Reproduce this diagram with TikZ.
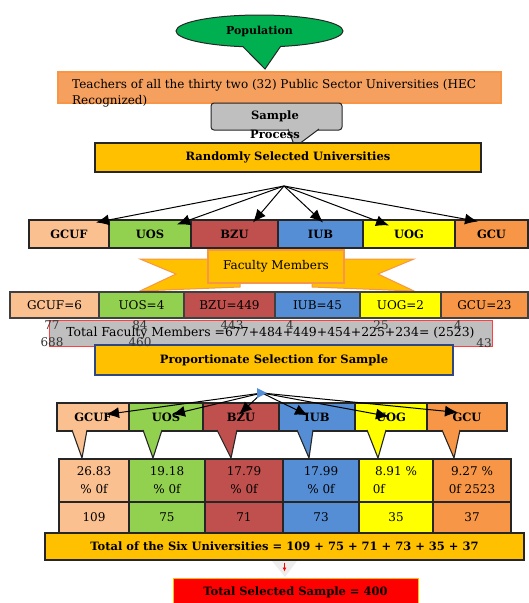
\documentclass[tikz,border=0pt]{standalone}
\usepackage{fontspec}
\setmainfont{DejaVu Serif}
\usepackage{tikz}
\usetikzlibrary{arrows.meta,shapes,shapes.callouts}
\definecolor{gcufcol}{RGB}{250,192,144}
\definecolor{uoscol}{RGB}{146,208,80}
\definecolor{bzucol}{RGB}{192,80,77}
\definecolor{iubcol}{RGB}{85,142,213}
\definecolor{uogcol}{RGB}{255,255,0}
\definecolor{gcucol}{RGB}{247,150,70}
\definecolor{goldcol}{RGB}{255,192,0}
\definecolor{popcol}{RGB}{0,176,80}
\definecolor{greycol}{RGB}{191,191,191}
\definecolor{barcol}{RGB}{245,160,95}
\definecolor{barlight}{RGB}{251,210,178}
\definecolor{propblue}{RGB}{47,72,130}
\newcommand{\cellfont}{\fontsize{12}{14}\selectfont}
\newcommand{\headfont}{\fontsize{11.5}{13}\selectfont\bfseries}
\tikzstyle{cell}=[rectangle, draw=black!85
%,fill=white
,line width=1.1pt
,inner sep=0pt
,font=\cellfont
]
\tikzstyle{head cell} = [cell, font=\headfont]
\tikzstyle{gold cell} = [head cell, fill=goldcol]
\tikzstyle{pct cell} = [cell, align=center, font=\fontsize{12}{18}\selectfont, minimum height=43pt]
\tikzstyle{tail} = [draw=black!85, line width=1.1pt, line join=miter]
\tikzstyle{num} = [inner sep=0pt, font=\cellfont]
\tikzstyle{edge} = [draw, line width=1pt, -{Latex[length=13pt,width=11pt]}]

\begin{document}
\begin{tikzpicture}[x=1pt,y=-1pt]
    \useasboundingbox (0,0) rectangle (529,603);
    % Population and the thirty two universities
    \node[ellipse callout, fill=popcol, draw=black!85, line width=1pt, minimum width=167pt, minimum height=32pt, callout absolute pointer={(265,69)}, callout pointer arc=26, font=\fontsize{11}{13}\selectfont\bfseries] (Pop) at (259.5,31) {Population};
    \node[cell, draw=gcucol, line width=1.2pt, top color=barcol, middle color=barlight, bottom color=barcol, minimum width=443pt, minimum height=31pt] (Teachers) at (279.5,87.5) {};
    \node[num, anchor=west, align=left, font=\fontsize{12}{16}\selectfont] (TeachersText) at (72,93) {Teachers of all the thirty two (32) Public Sector Universities (HEC\\Recognized)};
    \node[cell, rounded corners=3pt, fill=greycol, line width=1pt, minimum width=131pt, minimum height=27pt] (Sample) at (276.5,116.5) {};
    \filldraw[tail, fill=greycol, line width=1pt] (288,129) -- (295,147) -- (319,129);
    \node[num, align=center, font=\fontsize{11.5}{19}\selectfont\bfseries] (SampleText) at (275,124.5) {Sample\\Process};
    \node[gold cell, minimum width=386pt, minimum height=29pt] (Random) at (288,157.5) {Randomly Selected Universities};

    % First we draw the universities
    \coordinate (split1) at (284,186);
    \foreach \xa/\xb/\name/\col in {29/109/GCUF/gcufcol, 109/191/UOS/uoscol, 191/278/BZU/bzucol, 278/363/IUB/iubcol, 363/455/UOG/uogcol, 455/528/GCU/gcucol}
        \node[head cell, fill=\col, minimum width=\xb-\xa, minimum height=28pt] (\name) at ({(\xa+\xb)/2},234) {\name};

    % Connect the selection with the universities
    \foreach \dest/\dx/\dy in {GCUF/27/3, UOS/27/5, BZU/18.5/3, IUB/2.5/3, UOG/-20/6, GCU/-13.5/2}
        \path[edge] (split1) -- ([xshift=\dx, yshift=-\dy]\dest.north);

    % Faculty members banner
    \filldraw[fill=goldcol, draw=gcucol, line width=1pt] (140,259) -- (240,259) -- (240,287) -- (140,291) -- (176,274) -- cycle;
    \filldraw[fill=goldcol, draw=gcucol, line width=1pt] (414,259) -- (312,259) -- (312,287) -- (414,291) -- (378,274) -- cycle;
    \node[cell, fill=goldcol, draw=gcucol, line width=1.5pt, minimum width=136pt, minimum height=33pt] (Faculty) at (276,266.5) {Faculty Members};

    \foreach \xa/\xb/\name/\num/\col in {10/99/GCUF/6/gcufcol, 99/184/UOS/4/uoscol, 184/275/BZU/449/bzucol, 275/360/IUB/45/iubcol, 360/441/UOG/2/uogcol, 441/528/GCU/23/gcucol}
        \node[cell, draw=black!75, fill=\col, minimum width=\xb-\xa, minimum height=26pt] (f\name) at ({(\xa+\xb)/2},305) {\name=\num};

    % Total of the faculty members
    \node[cell, draw=red!75, line width=1pt, fill=greycol, minimum width=443pt, minimum height=26pt, font=\fontsize{12.4}{14}\selectfont] (TotalFac) at (270.5,333) {Total Faculty Members =677+484+449+454+225+234= (2523)};
    \node[gold cell, draw=propblue, minimum width=358pt, minimum height=30pt] (Propor) at (274,360) {Proportionate Selection for Sample};
    \foreach \pos/\num [count=\i] in {{(52,325)/77}, {(52,342)/688}, {(140,325)/84}, {(140,342)/460}, {(232,325)/443}, {(290,325)/4}, {(381,325)/25}, {(458,325)/4}, {(484,343)/43}}
        \node[num, text=black!80] (num\i) at \pos {\num};

    % Second selection of the universities
    \coordinate (split2) at (262,393);
    \foreach \xa/\xb/\bl/\tip/\br/\name/\col in {57/129/72/82/87/GCUF/gcufcol, 129/203/143/153/162/UOS/uoscol, 203/279/217/231/237/BZU/bzucol, 279/355/297/309/313/IUB/iubcol, 355/427/367/378/386/UOG/uogcol, 427/507/442/454/460/GCU/gcucol}
    {
        \node[head cell, fill=\col, minimum width=\xb-\xa, minimum height=28pt] (c\name) at ({(\xa+\xb)/2},417) {\raisebox{-3pt}{\name}};
        \filldraw[tail, fill=\col] (\bl,430) -- (\tip,458) -- (\br,430);
    }
    \foreach \dest/\dx/\dy in {GCUF/13/12, UOS/6/12, BZU/-2/12, IUB/-9/13, UOG/-2/14, GCU/-9/10}
        \path[edge] (split2) -- ([xshift=\dx, yshift=-\dy]c\dest.north);
    \fill[iubcol] (split2) ++(-5,-5) -- ++(10,5) -- ++(-10,5) -- cycle;

    % Percentages and sample sizes
    \foreach \xa/\xb/\name/\pct/\val/\col in {59/129/GCUF/{26.83\\\% 0f}/109/gcufcol, 129/205/UOS/{19.18\\\% 0f}/75/uoscol, 205/283/BZU/{17.79\\\% 0f}/71/bzucol, 283/359/IUB/{17.99\\\% 0f}/73/iubcol, 359/433/UOG/{8.91 \%\\0f\hphantom{.91 \%}}/35/uogcol, 433/511/GCU/{9.27 \%\\0f 2523}/37/gcucol}
    {
        \node[pct cell, fill=\col, minimum width=\xb-\xa] (p\name) at ({(\xa+\xb)/2},480.5) {\pct};
        \node[cell, fill=\col, minimum width=\xb-\xa, minimum height=31pt] (v\name) at ({(\xa+\xb)/2},517.5) {\val};
    }
    \node[gold cell, minimum width=479pt, minimum height=27pt] (TotalSix) at (284.5,546.5) {Total of the Six Universities = 109 + 75 + 71 + 73 + 35 + 37};

    % Total selected sample
    \fill[black!7] (272,561) -- (297,561) -- (285,577) -- cycle;
    \node[head cell, fill=red, draw=goldcol, line width=1pt, minimum width=245pt, minimum height=28pt] (Selected) at (295.5,592) {Total Selected Sample = 400};
    \draw[red, line width=1pt, -{Latex[length=4pt,width=4pt]}, shorten <=2pt, shorten >=6pt] (TotalSix.south) -- (TotalSix.south |- Selected.north);
\end{tikzpicture}
\end{document}
